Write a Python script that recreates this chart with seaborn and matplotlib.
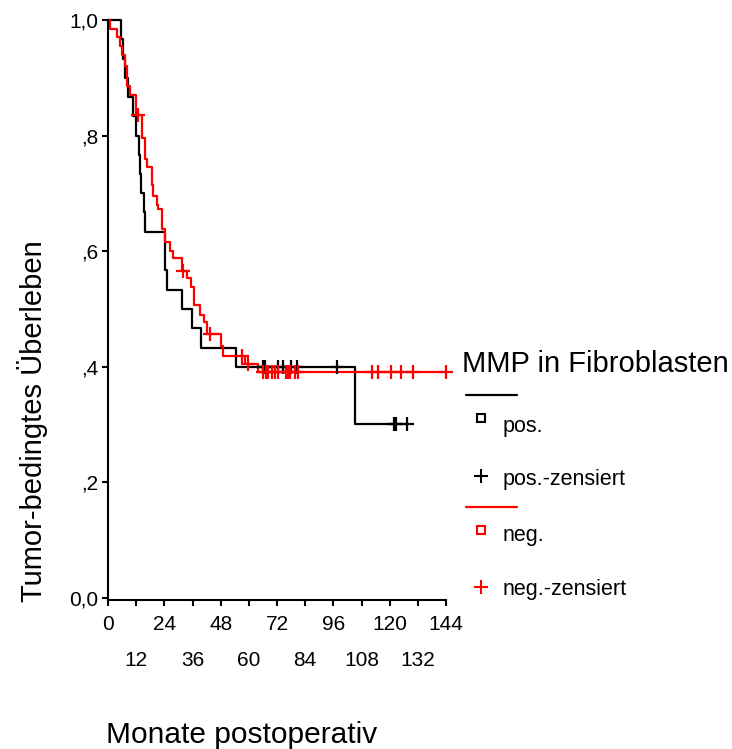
import numpy as np
import pandas as pd
import seaborn as sns
import matplotlib.pyplot as plt
from matplotlib.lines import Line2D

# MMP pos.: Stufen (Monate) und Überleben nach der Stufe
pos_time = [5.4, 6.2, 7.2, 8.6, 10.5, 12.0, 13.3, 13.6, 14.0, 15.5, 15.8,
            24.3, 25.0, 31.4, 35.8, 39.5, 54.4, 105.2]
pos_surv = [0.967, 0.933, 0.900, 0.867, 0.833, 0.800, 0.767, 0.733, 0.700, 0.667, 0.633,
            0.567, 0.533, 0.500, 0.467, 0.433, 0.400, 0.300]
pos_cens = [66.0, 66.5, 67.0, 72.5, 74.5, 78.0, 80.5, 97.5, 122.0, 122.5, 127.5]

# MMP neg.
neg_time = [0.9, 4.0, 5.0, 5.8, 7.2, 8.0, 9.4, 11.9, 14.3, 15.8, 16.8, 18.6, 19.3,
            20.7, 21.5, 22.8, 24.3, 26.4, 27.8, 31.4, 33.5, 35.4, 36.8, 39.2, 40.9,
            42.0, 48.0, 49.0, 58.5, 64.0]
neg_surv = [0.985, 0.970, 0.955, 0.940, 0.920, 0.885, 0.870, 0.835, 0.795, 0.760, 0.745,
            0.715, 0.695, 0.680, 0.672, 0.638, 0.616, 0.600, 0.588, 0.566, 0.553, 0.538,
            0.506, 0.490, 0.478, 0.456, 0.435, 0.418, 0.405, 0.390]
neg_cens = [12.8, 31.8, 43.5, 56.9, 59.6, 66.2, 67.5, 68.3, 69.7, 71.0, 72.5, 76.0,
            76.8, 77.5, 79.7, 80.8, 112.6, 114.9, 120.5, 124.8, 130.0, 144.0]

x_major = [0, 24, 48, 72, 96, 120, 144]
x_minor = [12, 36, 60, 84, 108, 132]
y_ticks = [0.0, 0.2, 0.4, 0.6, 0.8, 1.0]
y_labels = ["0,0", ",2", ",4", ",6", ",8", "1,0"]


def step_curve(times, surv, cens, name):
    t = [0.0] + list(times) + [max(cens)]
    s = [1.0] + list(surv) + [surv[-1]]
    return pd.DataFrame({"time": t, "surv": s, "group": name})


def cens_points(times, surv, cens, name):
    idx = np.searchsorted(times, cens, side="right") - 1
    s = np.where(idx >= 0, np.array(surv)[np.clip(idx, 0, None)], 1.0)
    return pd.DataFrame({"time": cens, "surv": s, "group": name})


curves = pd.concat([step_curve(pos_time, pos_surv, pos_cens, "pos."),
                    step_curve(neg_time, neg_surv, neg_cens, "neg.")])
marks = pd.concat([cens_points(pos_time, pos_surv, pos_cens, "pos."),
                   cens_points(neg_time, neg_surv, neg_cens, "neg.")])
pal = {"pos.": "black", "neg.": "#ff0000"}

sns.set_style("ticks")
plt.rcParams["font.family"] = ["Liberation Sans", "DejaVu Sans"]
plt.rcParams.update({"text.color": "black", "xtick.color": "black",
                     "ytick.color": "black", "axes.edgecolor": "black",
                     "axes.labelcolor": "black"})

fig = plt.figure(figsize=(7.32, 7.49), dpi=100)
ax = fig.add_axes([108 / 732, 149 / 749, 338 / 732, 580 / 749])

sns.lineplot(data=curves, x="time", y="surv", hue="group", palette=pal,
             drawstyle="steps-post", estimator=None, sort=False,
             linewidth=1.6, legend=False, ax=ax, clip_on=False)
sns.scatterplot(data=marks, x="time", y="surv", hue="group", palette=pal,
                marker="+", s=100, linewidth=1.6, legend=False, ax=ax,
                clip_on=False, zorder=3)

ax.set_xlim(0, 144)
ax.set_ylim(-0.004, 1.0)
sns.despine(ax=ax)
for sp in ["left", "bottom"]:
    ax.spines[sp].set_linewidth(1.5)

ax.set_xticks(x_major)
ax.set_xticklabels([str(v) for v in x_major])
ax.set_xticks(x_minor, minor=True)
ax.set_xticklabels([str(v) for v in x_minor], minor=True)
ax.tick_params(axis="x", which="major", length=4, width=1.5, pad=7, labelsize=15)
ax.tick_params(axis="x", which="minor", length=4, width=1.5, pad=33, labelsize=15)
ax.set_yticks(y_ticks)
ax.set_yticklabels(y_labels)
ax.tick_params(axis="y", length=4, width=1.5, pad=3, labelsize=15)
ax.set_xlabel("")
ax.set_ylabel("")

fig.text(242 / 732, 1 - 735 / 749, "Monate postoperativ", fontsize=21.5,
         ha="center", va="center")
fig.text(33 / 732, 1 - 421 / 749, "Tumor-bedingtes Überleben", fontsize=21,
         ha="center", va="center", rotation=90)

# Legende
def fx(px):
    return px / 732


def fy(py):
    return 1 - py / 749


fig.text(fx(462), fy(364), "MMP in Fibroblasten", fontsize=21, ha="left", va="center")
for py, col in [(395, "black"), (507, "#ff0000")]:
    fig.add_artist(Line2D([fx(466), fx(517)], [fy(py), fy(py)], color=col, lw=1.6))
entries = [(418, 427, "s", "black", "pos."),
           (476, 479, "+", "black", "pos.-zensiert"),
           (530, 536, "s", "#ff0000", "neg."),
           (587, 589, "+", "#ff0000", "neg.-zensiert")]
for my, ty, mk, col, lab in entries:
    if mk == "s":
        fig.add_artist(Line2D([fx(481)], [fy(my)], marker="s", ms=6, mfc="none",
                              mec=col, mew=1.5, ls="none"))
    else:
        fig.add_artist(Line2D([fx(481)], [fy(my)], marker="+", ms=10,
                              mec=col, mew=1.5, ls="none"))
    fig.text(fx(503), fy(ty), lab, fontsize=15.5, ha="left", va="center")

fig.savefig("out.png", dpi=100)
